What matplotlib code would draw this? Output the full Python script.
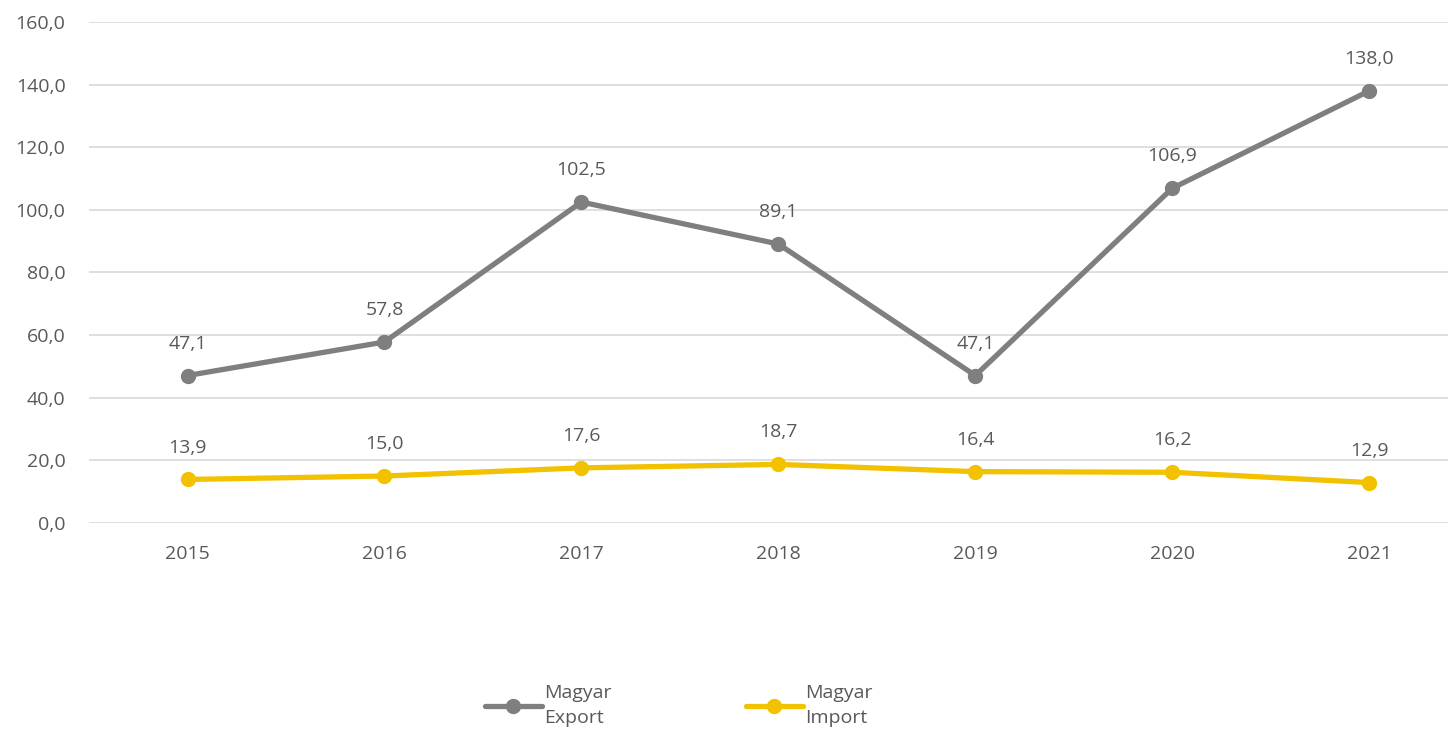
import matplotlib.pyplot as plt

plt.rcParams['font.family'] = ['Open Sans', 'DejaVu Sans']

years = ['2015', '2016', '2017', '2018', '2019', '2020', '2021']
export_vals = [47.1, 57.8, 102.5, 89.1, 47.1, 106.9, 138.0]
import_vals = [13.9, 15.0, 17.6, 18.7, 16.4, 16.2, 12.9]

grey = '#7F7F7F'
yellow = '#F2C200'
text_col = '#595959'

fig = plt.figure(figsize=(14.48, 7.34), dpi=100)
ax = fig.add_axes([0.0615, 0.2875, 0.9385, 0.6825])

x = list(range(len(years)))
ax.plot(x, export_vals, color=grey, lw=3.8, marker='o', ms=10, label='Magyar\nExport',
        solid_capstyle='round', zorder=3)
ax.plot(x, import_vals, color=yellow, lw=3.8, marker='o', ms=10, label='Magyar\nImport',
        solid_capstyle='round', zorder=3)

def fmt(v):
    return f'{v:.1f}'.replace('.', ',')

for xi, v in zip(x, export_vals):
    ax.annotate(fmt(v), (xi, v), xytext=(0, 23), textcoords='offset points',
                ha='center', va='center', fontsize=14, color=text_col)
for xi, v in zip(x, import_vals):
    ax.annotate(fmt(v), (xi, v), xytext=(0, 23), textcoords='offset points',
                ha='center', va='center', fontsize=14, color=text_col)

ax.set_ylim(0, 160)
ax.set_yticks(range(0, 161, 20))
ax.set_yticklabels([fmt(t) for t in range(0, 161, 20)])
ax.set_xlim(-0.5, 6.40)
ax.set_xticks(x)
ax.set_xticklabels(years)
ax.tick_params(axis='both', length=0, labelsize=14, labelcolor=text_col)
ax.tick_params(axis='y', pad=17)
ax.tick_params(axis='x', pad=16)
ax.grid(axis='y', color='#D9D9D9', lw=1.2)
ax.set_axisbelow(True)
for s in ax.spines.values():
    s.set_visible(False)

leg = fig.legend(loc='center', bbox_to_anchor=(0.469, 0.039), ncol=2, frameon=False,
                 fontsize=14, labelcolor=text_col, handlelength=2.9, handletextpad=0.15,
                 columnspacing=6.9)
for t in leg.get_texts():
    t.set_linespacing(1.5)

fig.savefig('out.png', dpi=100)
